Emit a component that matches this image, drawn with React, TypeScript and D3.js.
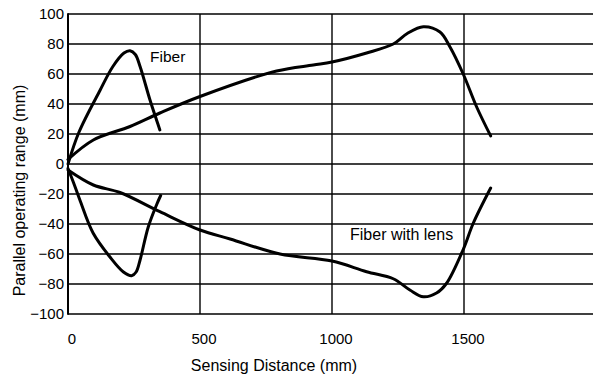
import React from "react";
import * as d3 from "d3";

const xTicks = [0, 500, 1000, 1500];
const yTicks = [100, 80, 60, 40, 20, 0, -20, -40, -60, -80, -100];
const xGrid = [500, 1000, 1500];

// [sensing distance mm, parallel operating range mm]
const fiberUpper: [number, number][] = [
  [0, 0], [41, 21], [121, 49], [170, 65], [212, 74], [235, 75.5],
  [255, 73], [273, 65], [310, 43], [336, 29], [348, 22.7],
];
const fiberLower: [number, number][] = [
  [0, -3], [20, -12], [45, -24], [95, -46], [159, -62], [210, -72], [241, -74.5],
  [258, -72], [273, -64], [304, -42], [336, -27], [351, -21],
];
const lensUpper: [number, number][] = [
  [0, 3], [96, 16], [235, 25], [348, 34], [500, 45], [790, 62], [929, 66],
  [1000, 68], [1131, 74], [1232, 80], [1285, 87], [1346, 91.5], [1409, 88],
  [1447, 78], [1497, 60], [1548, 38], [1601, 18.7],
];
const lensLower: [number, number][] = [
  [0, -4], [96, -14], [197, -19], [348, -31.8], [500, -44], [614, -50],
  [803, -60], [1000, -64.7], [1131, -71.8], [1232, -76.5], [1295, -84],
  [1346, -88.5], [1396, -86], [1434, -79.5], [1497, -57], [1535, -39.5], [1601, -16],
];

const W = 593;
const H = 381;

export default function App() {
  const x = d3.scaleLinear().domain([0, 2000]).range([68, 596]);
  const y = d3.scaleLinear().domain([-100, 100]).range([314, 14]);
  const line = d3
    .line<[number, number]>()
    .x((d) => x(d[0]))
    .y((d) => y(d[1]))
    .curve(d3.curveCatmullRom.alpha(0.5));
  const font = "'Liberation Sans', Arial, sans-serif";
  return (
    <svg width={W} height={H} style={{ position: "absolute", left: 0, top: 0, background: "#fff" }}>
      <rect width={W} height={H} fill="#fff" />
      {yTicks.map((t) => (
        <line key={"h" + t} x1={x(0)} x2={W} y1={y(t)} y2={y(t)} stroke="#000" strokeWidth={1.4} />
      ))}
      {xGrid.map((t) => (
        <line key={"v" + t} x1={x(t)} x2={x(t)} y1={y(100)} y2={y(-100)} stroke="#000" strokeWidth={1.4} />
      ))}
      <line x1={x(0)} x2={x(0)} y1={y(100) - 0.7} y2={y(-100) + 0.7} stroke="#000" strokeWidth={2} />
      {[fiberUpper, fiberLower, lensUpper, lensLower].map((s, i) => (
        <path key={i} d={line(s) || ""} fill="none" stroke="#000" strokeWidth={3} strokeLinecap="round" strokeLinejoin="round" />
      ))}
      {yTicks.map((t) => (
        <text key={"yl" + t} x={64} y={y(t)} dy="0.35em" textAnchor="end" fontFamily={font} fontSize={15} fill="#000">
          {t < 0 ? "\u2212" + Math.abs(t) : t}
        </text>
      ))}
      {xTicks.map((t) => (
        <text key={"xl" + t} x={x(t) + 4} y={344} textAnchor="middle" fontFamily={font} fontSize={15} fill="#000">
          {t}
        </text>
      ))}
      <text x={274} y={371} textAnchor="middle" fontFamily={font} fontSize={16} fill="#000">
        Sensing Distance (mm)
      </text>
      <text transform="translate(25,190.5) rotate(-90)" textAnchor="middle" fontFamily={font} fontSize={16} fill="#000">
        Parallel operating range (mm)
      </text>
      <text x={150} y={62} fontFamily={font} fontSize={15.5} fill="#000">Fiber</text>
      <text x={350} y={240} fontFamily={font} fontSize={16} fill="#000">Fiber with lens</text>
    </svg>
  );
}
